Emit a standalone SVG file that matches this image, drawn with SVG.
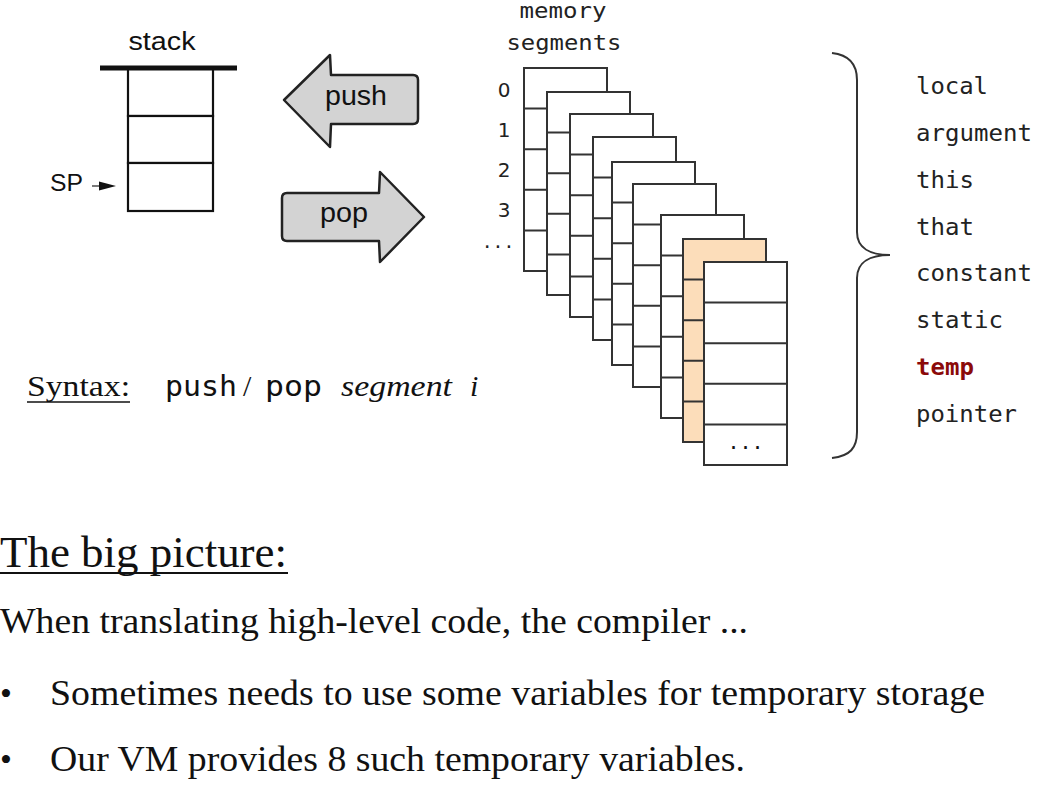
<svg xmlns="http://www.w3.org/2000/svg" xmlns:xlink="http://www.w3.org/1999/xlink" width="1051" height="796" viewBox="0 0 1051 796">
<style>
  .sans { font-family: "Liberation Sans", Arial, sans-serif; fill: #111; }
  .mono { font-family: "DejaVu Sans Mono", "Liberation Mono", monospace; fill: #222; }
  .serif { font-family: "Liberation Serif", "Times New Roman", serif; fill: #111; }
  .page { fill: #fff; stroke: #333; stroke-width: 2; }
  .page.hl { fill: #FCDDBA; }
  .rows { stroke: #333; stroke-width: 2; fill: none; }
  .dots { font-family: "DejaVu Sans Mono", monospace; font-size: 20px; fill: #111; text-anchor: middle; }
  .arrow { fill: #D3D3D3; stroke: #222; stroke-width: 2.5; stroke-linejoin: round; }
  .cell { fill: #fff; stroke: #111; stroke-width: 2.2; }
  .seg { font-size: 23px; }
</style>
<defs>
  <path id="rowlines" d="M0,40.6H83M0,81.2H83M0,121.8H83M0,162.4H83"/>
</defs>
<rect width="1051" height="796" fill="#fff"/>

<!-- Stack -->
<g id="stack">
  <text class="sans" x="162" y="50" font-size="26" text-anchor="middle" textLength="67" lengthAdjust="spacingAndGlyphs">stack</text>
  <rect class="cell" x="128" y="68" width="85" height="48"/>
  <rect class="cell" x="128" y="116" width="85" height="47"/>
  <rect class="cell" x="128" y="163" width="85" height="48"/>
  <line x1="100" y1="68" x2="237" y2="68" stroke="#111" stroke-width="5"/>
</g>
<g id="sp">
  <text class="sans" x="50" y="191" font-size="24" textLength="33" lengthAdjust="spacingAndGlyphs">SP</text>
  <line x1="92" y1="186" x2="102" y2="186" stroke="#222" stroke-width="1.2"/>
  <path d="M99,181.5 L116,186 L99,190.5 Z" fill="#111"/>
</g>

<!-- push / pop arrows -->
<g id="push-arrow">
  <path class="arrow" d="M284,100 L330,55 L331,75 L413,75 Q418,75 418,80 L418,119 Q418,124 413,124 L331,124 L330,147 Z"/>
  <text class="sans" x="356" y="105" font-size="27" text-anchor="middle" textLength="62" lengthAdjust="spacingAndGlyphs">push</text>
</g>
<g id="pop-arrow">
  <path class="arrow" d="M282,198 Q282,193 287,193 L379,193 L380,172 L424,217 L380,262 L379,241 L287,241 Q282,241 282,236 Z"/>
  <text class="sans" x="344" y="222" font-size="27" text-anchor="middle" textLength="48" lengthAdjust="spacingAndGlyphs">pop</text>
</g>

<!-- memory segments title and indices -->
<g id="mem-title">
  <text class="mono" x="563" y="18" font-size="22" text-anchor="middle" textLength="87" lengthAdjust="spacingAndGlyphs">memory</text>
  <text class="mono" x="564" y="50" font-size="22" text-anchor="middle" textLength="115" lengthAdjust="spacingAndGlyphs">segments</text>
</g>
<g id="indices" font-family="'DejaVu Sans', 'Liberation Sans', sans-serif" font-size="20" fill="#222" text-anchor="middle">
  <text x="504" y="97">0</text>
  <text x="504" y="137">1</text>
  <text x="504" y="177">2</text>
  <text x="504" y="217">3</text>
  <text x="498" y="248" font-family="'DejaVu Sans Mono', monospace" font-size="18">...</text>
</g>

<!-- memory segment pages -->
<g id="seg-local" transform="translate(524,68)"><rect class="page" width="83" height="203"/><use href="#rowlines" class="rows"/><text class="dots" x="41.5" y="187">...</text></g>
<g id="seg-argument" transform="translate(547,92)"><rect class="page" width="83" height="203"/><use href="#rowlines" class="rows"/><text class="dots" x="41.5" y="187">...</text></g>
<g id="seg-this" transform="translate(570,114)"><rect class="page" width="83" height="203"/><use href="#rowlines" class="rows"/><text class="dots" x="41.5" y="187">...</text></g>
<g id="seg-that" transform="translate(593,137)"><rect class="page" width="83" height="203"/><use href="#rowlines" class="rows"/><text class="dots" x="41.5" y="187">...</text></g>
<g id="seg-constant" transform="translate(612,162)"><rect class="page" width="83" height="203"/><use href="#rowlines" class="rows"/><text class="dots" x="41.5" y="187">...</text></g>
<g id="seg-static" transform="translate(633,184)"><rect class="page" width="83" height="203"/><use href="#rowlines" class="rows"/><text class="dots" x="41.5" y="187">...</text></g>
<g id="seg-extra" transform="translate(661,215)"><rect class="page" width="83" height="203"/><use href="#rowlines" class="rows"/><text class="dots" x="41.5" y="187">...</text></g>
<g id="seg-temp" transform="translate(683,239)"><rect class="page hl" width="83" height="203"/><use href="#rowlines" class="rows"/><text class="dots" x="41.5" y="187">...</text></g>
<g id="seg-pointer" transform="translate(704,262)"><rect class="page" width="83" height="203"/><use href="#rowlines" class="rows"/><text class="dots" x="41.5" y="187">...</text></g>

<!-- brace -->
<g id="brace">
  <path d="M832,53 C850,55 857,65 857,80 L857,232 C857,248 870,255 890,255 C870,255 857,262 857,278 L857,432 C857,448 850,456 832,458" fill="none" stroke="#333" stroke-width="2"/>
</g>

<!-- segment names -->
<g id="segment-names" class="mono">
  <text class="mono seg" x="916" y="94" textLength="72" lengthAdjust="spacingAndGlyphs">local</text>
  <text class="mono seg" x="916" y="141" textLength="116" lengthAdjust="spacingAndGlyphs">argument</text>
  <text class="mono seg" x="916" y="188" textLength="58" lengthAdjust="spacingAndGlyphs">this</text>
  <text class="mono seg" x="916" y="235" textLength="58" lengthAdjust="spacingAndGlyphs">that</text>
  <text class="mono seg" x="916" y="281" textLength="116" lengthAdjust="spacingAndGlyphs">constant</text>
  <text class="mono seg" x="916" y="328" textLength="87" lengthAdjust="spacingAndGlyphs">static</text>
  <text class="mono seg" x="916" y="375" textLength="58" lengthAdjust="spacingAndGlyphs" font-weight="bold" style="fill:#8B0A0A">temp</text>
  <text class="mono seg" x="916" y="422" textLength="101" lengthAdjust="spacingAndGlyphs">pointer</text>
</g>

<!-- syntax line -->
<g id="syntax">
  <text class="serif" x="27" y="396" font-size="30" textLength="103" lengthAdjust="spacingAndGlyphs">Syntax:</text>
  <line x1="27" y1="402" x2="130" y2="402" stroke="#111" stroke-width="1.5"/>
  <text class="mono" x="165" y="396" font-size="29" textLength="72" lengthAdjust="spacingAndGlyphs" style="fill:#111">push</text>
  <text class="serif" x="243" y="396" font-size="30">/</text>
  <text class="mono" x="265" y="396" font-size="29" textLength="57" lengthAdjust="spacingAndGlyphs" style="fill:#111">pop</text>
  <text class="serif" x="341" y="396" font-size="30" font-style="italic" textLength="111" lengthAdjust="spacingAndGlyphs">segment</text>
  <text class="serif" x="470" y="396" font-size="30" font-style="italic">i</text>
</g>

<!-- big picture text -->
<g id="big-picture">
  <text class="serif" x="0" y="567" font-size="45" textLength="287" lengthAdjust="spacingAndGlyphs">The big picture:</text>
  <line x1="0" y1="573" x2="288" y2="573" stroke="#111" stroke-width="2"/>
  <text class="serif" x="0" y="633" font-size="36" textLength="748" lengthAdjust="spacingAndGlyphs">When translating high-level code, the compiler ...</text>
  <text class="serif" x="0" y="705" font-size="34">•</text>
  <text class="serif" x="50" y="705" font-size="36" textLength="935" lengthAdjust="spacingAndGlyphs">Sometimes needs to use some variables for temporary storage</text>
  <text class="serif" x="0" y="771" font-size="34">•</text>
  <text class="serif" x="50" y="771" font-size="36" textLength="695" lengthAdjust="spacingAndGlyphs">Our VM provides 8 such temporary variables.</text>
</g>
</svg>
